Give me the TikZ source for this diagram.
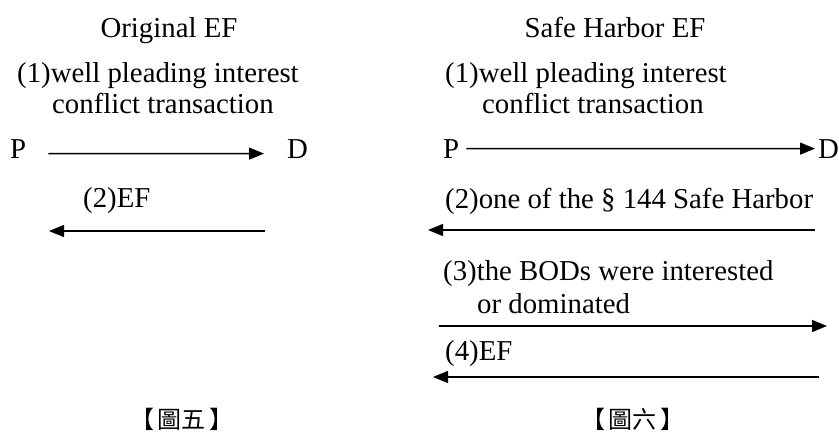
\documentclass[tikz,border=0pt]{standalone}
\usepackage{fontspec}
\setmainfont{Liberation Serif}
\newfontfamily\cjk{Noto Sans CJK TC}
\usetikzlibrary{arrows.meta}

\tikzset{
    txt/.style={inner sep=0pt, anchor=base west, font=\fontsize{28.8}{34}\selectfont},
    arr/.style={line width=1.4pt, -{Triangle[length=15pt,width=12pt]}}
}

\begin{document}
\begin{tikzpicture}[x=1pt,y=-1pt]
        \useasboundingbox (0,0) rectangle (839,432);

        % left panel
        \begin{scope}[every node/.style={txt}]
            \node (ltitle) at (169,37) [anchor=base] {Original EF};
            \node (l1a) at (17,82) {(1)well pleading interest};
            \node (l1b) at (52,113) {conflict transaction};
            \node (lp) at (10,158) {P};
            \node (ld) at (287,158) {D};
            \node (l2) at (83,207) {(2)EF};
        \end{scope}
        \coordinate (l2s) at (265,231);
        \coordinate (l2e) at (49,231);

        % right panel
        \begin{scope}[every node/.style={txt}]
            \node (rtitle) at (615,37) [anchor=base] {Safe Harbor EF};
            \node (r1a) at (445,82) {(1)well pleading interest};
            \node (r1b) at (482,113) {conflict transaction};
            \node (rp) at (443,158) {P};
            \node (rd) at (818,158) {D};
            \node (r2) at (445,208) {(2)one of the \S\ 144 Safe Harbor};
            \node (r3a) at (443,280) {(3)the BODs were interested};
            \node (r3b) at (477,313) {or dominated};
            \node (r4) at (445,360) {(4)EF};
        \end{scope}
        \coordinate (r2s) at (815,230);
        \coordinate (r2e) at (428,230);
        \coordinate (r3s) at (439,326);
        \coordinate (r3e) at (827,326);
        \coordinate (r4s) at (819,377);
        \coordinate (r4e) at (433,377);

        % captions
        \begin{scope}[every node/.style={inner sep=0pt, anchor=base, font=\cjk\fontsize{24}{28}\selectfont}]
            \node (cap5) at (182,428) {【\hspace{4pt}圖五\hspace{4pt}】};
            \node (cap6) at (633,428) {【\hspace{4pt}圖六\hspace{4pt}】};
        \end{scope}

        \begin{scope}[every edge/.style={draw, arr}]
            \path ([yshift=-5pt]lp.east) edge [shorten <=22pt, shorten >=23pt] ([yshift=-5pt]ld.west);
            \path (l2s) edge (l2e);
            \path (rp) edge [shorten <=7pt, shorten >=3pt] (rd);
            \path (r2s) edge (r2e);
            \path (r3s) edge (r3e);
            \path (r4s) edge (r4e);
        \end{scope}
    \end{tikzpicture}
\end{document}
